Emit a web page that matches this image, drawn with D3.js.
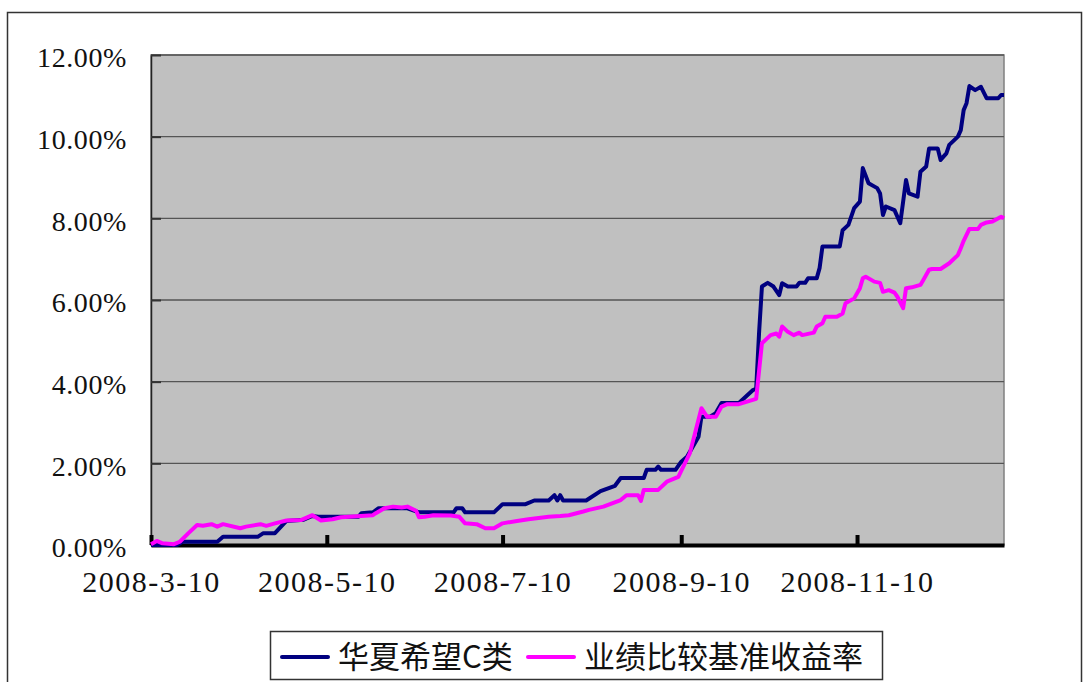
<!DOCTYPE html>
<html>
<head>
<meta charset="utf-8">
<script src="https://cdn.jsdelivr.net/npm/d3@7"></script>
<style>
  body { margin: 0; background: #fff; }
  svg { display: block; }
</style>
</head>
<body>
<svg id="chart" width="1092" height="682"></svg>
<script>
// series names
const seriesNames = ['华夏希望C类', '业绩比较基准收益率'];

// 华夏希望C类 (cumulative return, %)
const fundDates = [
  '2008-03-10','2008-03-19','2008-03-21','2008-04-02','2008-04-04','2008-04-16','2008-04-18','2008-04-22',
  '2008-04-26','2008-05-02','2008-05-05','2008-05-07','2008-05-21','2008-05-22','2008-05-26','2008-05-28',
  '2008-06-07','2008-06-11','2008-06-23','2008-06-24','2008-06-26','2008-06-27','2008-07-07','2008-07-10',
  '2008-07-18','2008-07-21','2008-07-26','2008-07-28','2008-07-29','2008-07-30','2008-07-31','2008-08-08',
  '2008-08-13','2008-08-18','2008-08-20','2008-08-28','2008-08-29','2008-09-01','2008-09-02','2008-09-03',
  '2008-09-08','2008-09-10','2008-09-12','2008-09-16','2008-09-17','2008-09-20','2008-09-22','2008-09-24',
  '2008-09-30','2008-10-05','2008-10-06','2008-10-07','2008-10-08','2008-10-10','2008-10-12','2008-10-14',
  '2008-10-15','2008-10-17','2008-10-20','2008-10-21','2008-10-23','2008-10-24','2008-10-27','2008-10-28',
  '2008-10-29','2008-11-04','2008-11-05','2008-11-07','2008-11-09','2008-11-11','2008-11-12','2008-11-14',
  '2008-11-17','2008-11-18','2008-11-19','2008-11-20','2008-11-23','2008-11-25','2008-11-27','2008-11-28',
  '2008-12-01','2008-12-02','2008-12-04','2008-12-05','2008-12-08','2008-12-09','2008-12-11','2008-12-12',
  '2008-12-15','2008-12-16','2008-12-17','2008-12-18','2008-12-19','2008-12-21','2008-12-23','2008-12-25',
  '2008-12-29','2008-12-30','2008-12-31'
];
const fundValues = [
  0.00, 0.00, 0.08, 0.08, 0.20, 0.20, 0.29, 0.29,
  0.59, 0.62, 0.71, 0.69, 0.69, 0.78, 0.80, 0.90,
  0.90, 0.80, 0.80, 0.90, 0.90, 0.80, 0.80, 1.00,
  1.00, 1.09, 1.09, 1.22, 1.09, 1.22, 1.09, 1.09,
  1.32, 1.45, 1.64, 1.64, 1.84, 1.84, 1.92, 1.84,
  1.84, 2.04, 2.16, 2.65, 3.14, 3.14, 3.23, 3.48,
  3.48, 3.80, 3.82, 5.19, 6.33, 6.42, 6.33, 6.12,
  6.41, 6.33, 6.33, 6.42, 6.42, 6.53, 6.53, 6.78,
  7.31, 7.31, 7.71, 7.84, 8.25, 8.41, 9.23, 8.86,
  8.74, 8.61, 8.08, 8.29, 8.20, 7.88, 8.94, 8.61,
  8.53, 9.14, 9.27, 9.71, 9.71, 9.43, 9.59, 9.80,
  10.00, 10.16, 10.65, 10.82, 11.24, 11.14, 11.22, 10.94,
  10.94, 11.02, 11.02
];

// 业绩比较基准收益率 (%)
const benchDates = [
  '2008-03-10','2008-03-12','2008-03-14','2008-03-18','2008-03-20','2008-03-23','2008-03-26','2008-03-28',
  '2008-03-31','2008-04-02','2008-04-04','2008-04-10','2008-04-12','2008-04-17','2008-04-19','2008-04-22',
  '2008-04-26','2008-05-01','2008-05-05','2008-05-08','2008-05-12','2008-05-15','2008-05-26','2008-05-27',
  '2008-05-30','2008-06-02','2008-06-05','2008-06-07','2008-06-10','2008-06-11','2008-06-13','2008-06-16',
  '2008-06-22','2008-06-25','2008-06-27','2008-07-01','2008-07-04','2008-07-07','2008-07-10','2008-07-15',
  '2008-07-19','2008-07-26','2008-07-30','2008-08-02','2008-08-07','2008-08-09','2008-08-14','2008-08-20',
  '2008-08-22','2008-08-26','2008-08-27','2008-08-28','2008-09-02','2008-09-05','2008-09-09','2008-09-11',
  '2008-09-13','2008-09-17','2008-09-19','2008-09-22','2008-09-24','2008-09-26','2008-09-30','2008-10-06',
  '2008-10-08','2008-10-11','2008-10-13','2008-10-14','2008-10-15','2008-10-17','2008-10-19','2008-10-21',
  '2008-10-22','2008-10-26','2008-10-27','2008-10-29','2008-10-30','2008-11-03','2008-11-05','2008-11-06',
  '2008-11-09','2008-11-11','2008-11-12','2008-11-13','2008-11-16','2008-11-18','2008-11-19','2008-11-21',
  '2008-11-23','2008-11-24','2008-11-26','2008-11-27','2008-11-29','2008-12-02','2008-12-03','2008-12-05',
  '2008-12-06','2008-12-09','2008-12-12','2008-12-15','2008-12-16','2008-12-17','2008-12-19','2008-12-22',
  '2008-12-23','2008-12-25','2008-12-27','2008-12-30','2008-12-31'
];
const benchValues = [
  0.02, 0.10, 0.04, 0.02, 0.08, 0.29, 0.49, 0.47,
  0.51, 0.45, 0.51, 0.41, 0.45, 0.51, 0.47, 0.53,
  0.60, 0.61, 0.73, 0.60, 0.63, 0.68, 0.73, 0.78,
  0.90, 0.94, 0.92, 0.94, 0.84, 0.68, 0.69, 0.73,
  0.72, 0.69, 0.53, 0.51, 0.41, 0.41, 0.53, 0.59,
  0.63, 0.69, 0.71, 0.73, 0.82, 0.86, 0.94, 1.10,
  1.22, 1.22, 1.08, 1.35, 1.35, 1.55, 1.67, 1.96,
  2.25, 3.35, 3.14, 3.14, 3.39, 3.45, 3.45, 3.58,
  4.94, 5.14, 5.18, 5.10, 5.35, 5.22, 5.14, 5.20,
  5.14, 5.20, 5.35, 5.43, 5.59, 5.59, 5.67, 5.92,
  6.04, 6.29, 6.53, 6.57, 6.45, 6.42, 6.20, 6.24,
  6.18, 6.08, 5.80, 6.29, 6.31, 6.37, 6.49, 6.74,
  6.76, 6.76, 6.90, 7.10, 7.27, 7.45, 7.74, 7.74,
  7.84, 7.90, 7.92, 8.04, 8.00
];

// axis ticks
const xTickDates = ['2008-03-10', '2008-05-10', '2008-07-10', '2008-09-10', '2008-11-10'];
const yTickValues = [0, 2, 4, 6, 8, 10, 12];

const colors = ['#000080', '#FF00FF'];

const parse = d3.timeParse('%Y-%m-%d');
const fmtDate = d3.timeFormat('%Y-%-m-%-d');

const svg = d3.select('#chart');

const plotLeft = 151, plotRight = 1004, plotTop = 55, plotBottom = 545;

const x = d3.scaleTime()
  .domain([parse('2008-03-10'), parse('2008-12-31')])
  .range([plotLeft, plotRight]);

const y = d3.scaleLinear()
  .domain([0, 12])
  .range([plotBottom, plotTop]);

// outer frame
svg.append('rect')
  .attr('x', 7.5).attr('y', 12.5)
  .attr('width', 1074).attr('height', 700)
  .attr('fill', '#fff')
  .attr('stroke', '#333')
  .attr('stroke-width', 1.5);

// plot area
svg.append('rect')
  .attr('x', plotLeft).attr('y', plotTop)
  .attr('width', plotRight - plotLeft).attr('height', plotBottom - plotTop)
  .attr('fill', '#C0C0C0')
  .attr('stroke', '#808080')
  .attr('stroke-width', 1.5);

// gridlines
svg.append('g')
  .selectAll('line')
  .data(yTickValues.filter(d => d > 0))
  .join('line')
  .attr('x1', plotLeft).attr('x2', plotRight)
  .attr('y1', d => y(d)).attr('y2', d => y(d))
  .attr('stroke', '#555')
  .attr('stroke-width', 1.3);

// y axis
const yAxis = svg.append('g')
  .attr('transform', `translate(${plotLeft},0)`)
  .call(d3.axisLeft(y).tickValues(yTickValues).tickSize(-10).tickSizeOuter(0).tickPadding(24)
    .tickFormat(d => d.toFixed(2) + '%'));
yAxis.select('.domain').attr('stroke', '#222').attr('stroke-width', 1.5);
yAxis.selectAll('.tick line').attr('stroke', '#333').attr('stroke-width', 2);
yAxis.selectAll('.tick text')
  .attr('font-family', '"Liberation Serif", "DejaVu Serif", serif')
  .attr('font-size', 28)
  .attr('letter-spacing', 0.6)
  .attr('fill', '#111')
  .attr('dy', '0.42em');

// x axis
const xAxis = svg.append('g')
  .attr('transform', `translate(0,${plotBottom})`)
  .call(d3.axisBottom(x).tickValues(xTickDates.map(parse)).tickSize(-10).tickSizeOuter(0).tickPadding(26)
    .tickFormat(fmtDate));
xAxis.select('.domain').attr('stroke', '#000').attr('stroke-width', 4);
xAxis.selectAll('.tick line').attr('stroke', '#000').attr('stroke-width', 4);
xAxis.selectAll('.tick text')
  .attr('font-family', '"Liberation Serif", "DejaVu Serif", serif')
  .attr('font-size', 30)
  .attr('letter-spacing', 1.5)
  .attr('fill', '#111')
  .attr('dy', '0.71em');

// lines
const line = d3.line()
  .x(d => x(d[0]))
  .y(d => y(d[1]));

const fundData = fundDates.map((d, i) => [parse(d), fundValues[i]]);
const benchData = benchDates.map((d, i) => [parse(d), benchValues[i]]);

svg.append('path')
  .datum(fundData)
  .attr('fill', 'none')
  .attr('stroke', colors[0])
  .attr('stroke-width', 4)
  .attr('stroke-linejoin', 'round')
  .attr('d', line);

svg.append('path')
  .datum(benchData)
  .attr('fill', 'none')
  .attr('stroke', colors[1])
  .attr('stroke-width', 4)
  .attr('stroke-linejoin', 'round')
  .attr('d', line);

// legend
const legend = svg.append('g');
legend.append('rect')
  .attr('x', 270.5).attr('y', 631.5)
  .attr('width', 612).attr('height', 48)
  .attr('fill', '#fff')
  .attr('stroke', '#333')
  .attr('stroke-width', 1.5);

const legendX = [282, 528];
seriesNames.forEach((name, i) => {
  legend.append('line')
    .attr('x1', legendX[i]).attr('x2', legendX[i] + 46)
    .attr('y1', 657).attr('y2', 657)
    .attr('stroke', colors[i])
    .attr('stroke-width', 4)
    .attr('stroke-linecap', 'round');
  legend.append('text')
    .attr('x', legendX[i] + 56)
    .attr('y', 657)
    .attr('dy', '0.36em')
    .attr('font-family', '"Noto Sans CJK SC", sans-serif')
    .attr('font-size', 31)
    .attr('fill', '#111')
    .text(name);
});
</script>
</body>
</html>
